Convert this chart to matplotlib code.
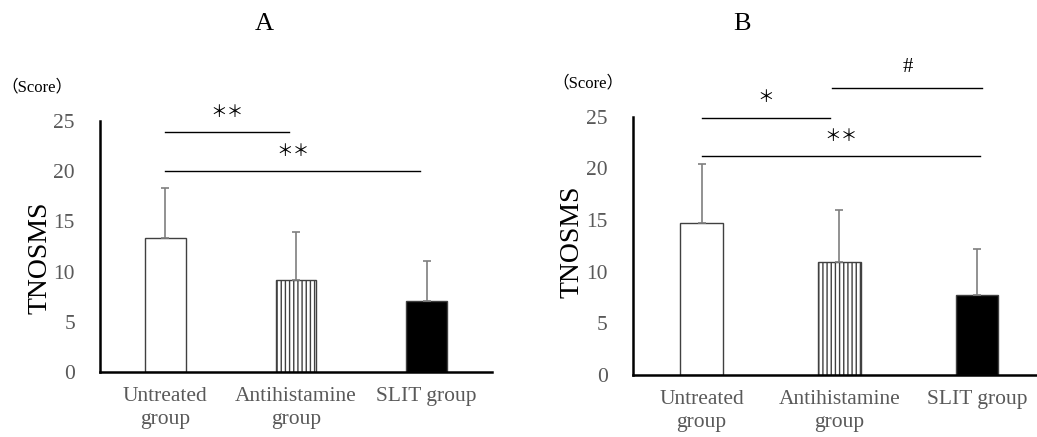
import numpy as np
import matplotlib
matplotlib.use("Agg")
import matplotlib.pyplot as plt

groups = ["Untreated\ngroup", "Antihistamine\ngroup", "SLIT group"]
mean_a = [13.3, 9.2, 7.1]
sd_a = [5.0, 4.7, 4.0]
mean_b = [14.7, 10.9, 7.7]
sd_b = [5.7, 5.1, 4.5]
# significance brackets: (from, to, height, label)
sig_a = [(0, 0.95, 23.9, "＊＊"), (0, 1.95, 20.0, "＊＊")]
sig_b = [(0, 0.93, 24.9, "＊"), (0.95, 2.04, 27.75, "#"), (0, 2.02, 21.2, "＊＊")]

serif = ["Liberation Serif", "Noto Sans CJK JP"]
plt.rcParams["font.family"] = serif

fig = plt.figure(figsize=(10.37, 4.37), dpi=100)
ax_a = fig.add_axes([0.0964, 0.1487, 0.378, 0.5744])
ax_b = fig.add_axes([0.6101, 0.1419, 0.3983, 0.5911])

fills = ["white", "white", "black"]
hatches = [None, "||||", None]

def draw(ax, means, sds, sigs):
    x = np.arange(len(groups))
    for i in x:
        ax.bar(i, means[i], width=0.31, color=fills[i], edgecolor="#404040",
               linewidth=1, hatch=hatches[i], zorder=2)
    ax.errorbar(x, means, yerr=[np.zeros(len(x)), sds], fmt="none",
                ecolor="#7f7f7f", elinewidth=1.2, capsize=3, capthick=1.2, zorder=3)
    for x0, x1, h, lab in sigs:
        ax.plot([x0, x1], [h, h], color="black", lw=1, clip_on=False)
        fs = 15 if lab == "#" else 12
        ax.text((x0 + x1) / 2, h + 1.1, lab, ha="center", va="bottom",
                fontsize=fs, family=serif)
    ax.set_xlim(-0.5, 2.5)
    ax.set_ylim(0, 25)
    ax.set_yticks([0, 5, 10, 15, 20, 25])
    ax.set_xticks(x)
    ax.set_xticklabels(groups, color="#595959", fontsize=15.5, linespacing=1.25)
    ax.tick_params(axis="y", length=0, pad=18, labelsize=15.5, labelcolor="#595959")
    ax.tick_params(axis="x", length=0, pad=11)
    for s in ["top", "right"]:
        ax.spines[s].set_visible(False)
    ax.spines["left"].set_linewidth(1.8)
    ax.spines["bottom"].set_linewidth(1.8)

draw(ax_a, mean_a, sd_a, sig_a)
draw(ax_b, mean_b, sd_b, sig_b)

fig.text(0.2546, 0.945, "A", ha="center", va="center", fontsize=19)
fig.text(0.7155, 0.945, "B", ha="center", va="center", fontsize=19)
fig.text(0.001, 0.80, "（Score）", ha="left", va="center", fontsize=12)
fig.text(0.567, 0.808, "（Score）", ha="center", va="center", fontsize=12)
fig.text(0.039, 0.41, "TNOSMS", rotation=90, ha="center", va="center", fontsize=20)
fig.text(0.552, 0.446, "TNOSMS", rotation=90, ha="center", va="center", fontsize=20)

fig.savefig("out.png", dpi=100)
